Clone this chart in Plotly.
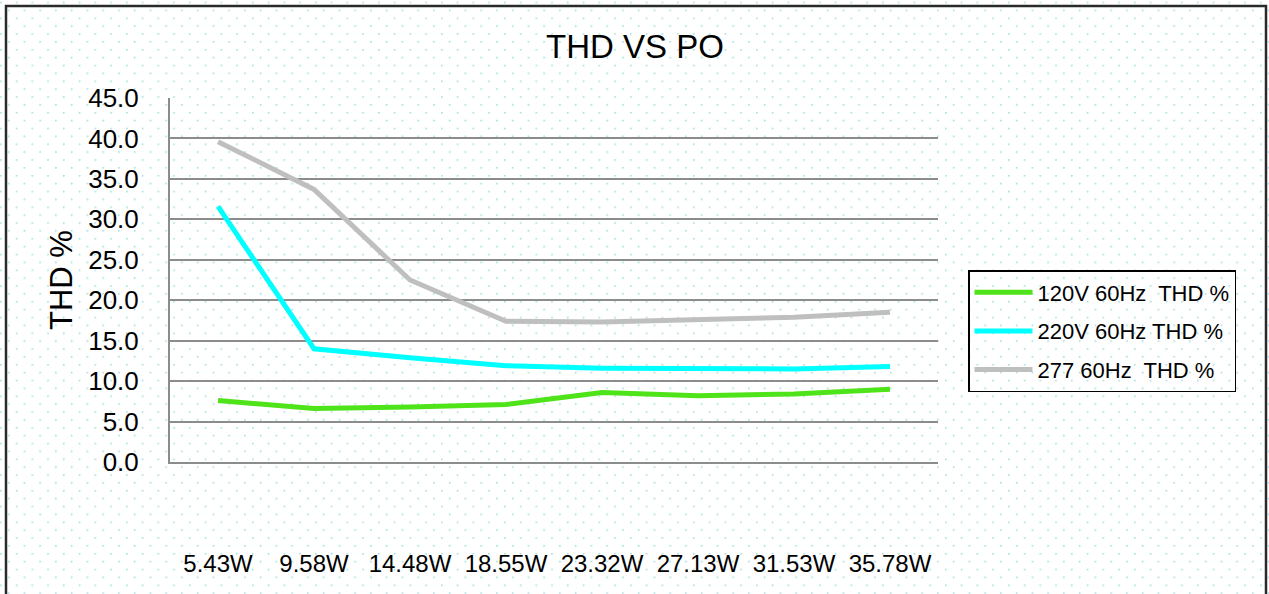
import base64
import plotly.graph_objects as go

categories = ["5.43W", "9.58W", "14.48W", "18.55W", "23.32W", "27.13W", "31.53W", "35.78W"]
thd_120v = [7.6, 6.6, 6.8, 7.1, 8.6, 8.2, 8.4, 9.0]
thd_220v = [31.6, 14.0, 12.9, 11.9, 11.6, 11.5, 11.5, 11.8]
thd_277v = [39.6, 33.7, 22.5, 17.4, 17.3, 17.6, 17.9, 18.5]
series_names = ["120V 60Hz  THD %", "220V 60Hz THD %", "277 60Hz  THD %"]
y_ticks = [0, 5, 10, 15, 20, 25, 30, 35, 40, 45]

colors = ["#4FE31A", "#00FFFF", "#BFBFBF"]

fig = go.Figure()
for i, (name, vals) in enumerate(zip(series_names, [thd_120v, thd_220v, thd_277v])):
    fig.add_trace(go.Scatter(
        x=categories, y=vals, mode="lines", name=name,
        line=dict(color=colors[i], width=5),
        legendgroup=f"g{i}",
    ))

W, H = 1269, 594
L, T = 170, 98
R = W - 938
B = H - 462
pw, ph = W - L - R, H - T - B

def px(x):
    return (x - L) / pw

def py(y):
    return (H - B - y) / ph

# dotted paper background (decoration only)
svg = (
    f'<svg xmlns="http://www.w3.org/2000/svg" width="{W}" height="{H}">'
    '<defs><pattern id="d" x="0" y="1.7" width="15.75" height="15.75" patternUnits="userSpaceOnUse">'
    '<circle cx="0.8" cy="0.8" r="0.95" fill="#A9DDE1"/>'
    '<circle cx="8.675" cy="8.675" r="0.95" fill="#A9DDE1"/>'
    '</pattern></defs>'
    f'<rect width="{W}" height="{H}" fill="url(#d)"/></svg>'
)
svg_uri = "data:image/svg+xml;base64," + base64.b64encode(svg.encode()).decode()

fig.update_layout(
    width=W, height=H,
    margin=dict(l=L, r=R, t=T, b=B, autoexpand=False),
    paper_bgcolor="white", plot_bgcolor="rgba(0,0,0,0)",
    font=dict(family="Liberation Sans, Arial, sans-serif", color="black"),
    title=dict(text="THD VS PO", x=635 / W, xanchor="center", y=1 - 46 / H, yanchor="middle",
               font=dict(size=33, color="black")),
    showlegend=True,
    legend=dict(
        x=px(968), y=py(270), xanchor="left", yanchor="top",
        bordercolor="black", borderwidth=1.5, bgcolor="rgba(255,255,255,0)",
        font=dict(size=22, color="black"),
        tracegroupgap=7, traceorder="grouped",
        itemwidth=58,
    ),
    xaxis=dict(
        type="category", range=[-0.5, 7.5], showgrid=False, showline=True,
        linecolor="#8C8C8C", linewidth=2,
        ticks="", tickfont=dict(size=24),
        ticklabelstandoff=79, zeroline=False, fixedrange=True,
    ),
    yaxis=dict(
        range=[0, 45], tickvals=y_ticks, ticktext=[f"{v:.1f}" for v in y_ticks],
        showgrid=True, gridcolor="#8C8C8C", gridwidth=2,
        showline=True, linecolor="#8C8C8C", linewidth=2,
        ticks="", tickfont=dict(size=26), ticklabelstandoff=24,
        title=dict(text="THD %", font=dict(size=31), standoff=6),
        zeroline=False, fixedrange=True,
    ),
    images=[
        dict(source=svg_uri, xref="paper", yref="paper", x=px(0), y=py(0),
             sizex=W / pw, sizey=H / ph, xanchor="left", yanchor="top",
             sizing="stretch", layer="below"),
    ],
    shapes=[
        dict(type="rect", xref="paper", yref="paper",
             x0=px(6), x1=px(1266), y0=py(610), y1=py(6),
             line=dict(color="#2A2A2A", width=2.5), fillcolor="rgba(0,0,0,0)", layer="above"),
    ],
)

fig.write_html("out.html", config={"displayModeBar": False},
               post_script="document.body.style.margin='0px';")
